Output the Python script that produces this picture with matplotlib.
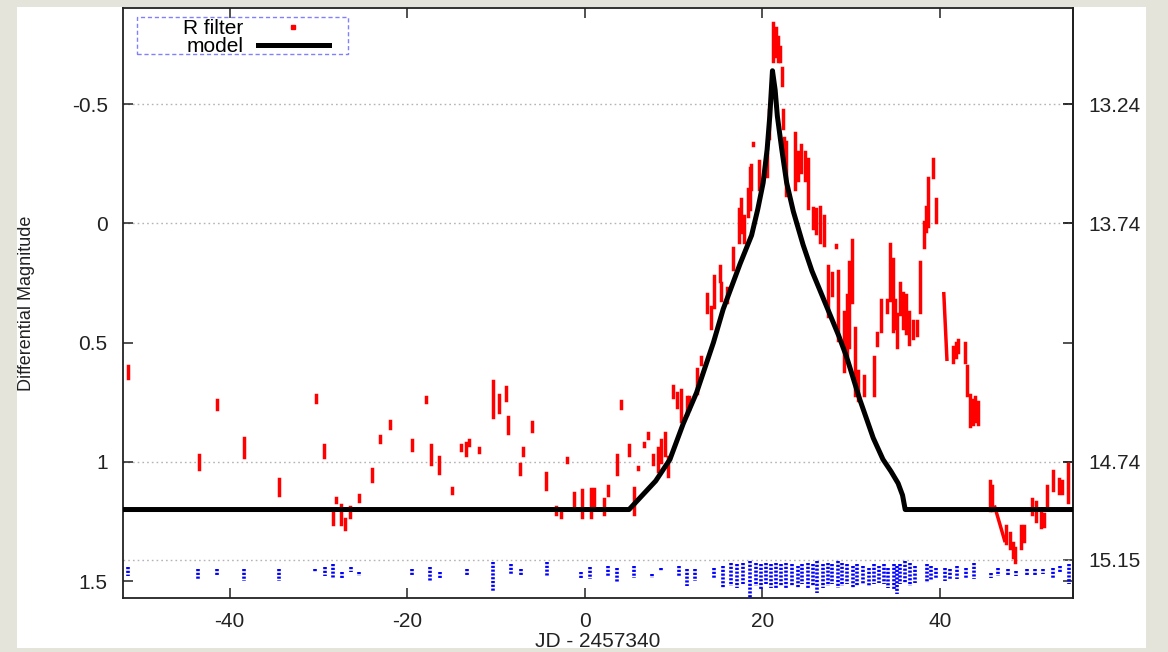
import matplotlib
matplotlib.use('Agg')
import matplotlib.pyplot as plt
from matplotlib.patches import Rectangle
from matplotlib.lines import Line2D

plt.rcParams['font.family'] = ['Liberation Sans', 'DejaVu Sans']
plt.rcParams['axes.unicode_minus'] = False

# ---------------- data ----------------
# model light curve (JD-2457340, differential magnitude)
model_x = [-52, 5.0, 6.5, 8.0, 9.6, 11.1, 12.6, 14.5, 15.6, 16.6, 17.5, 18.8, 19.5, 20.1,
           20.55, 20.85, 21.15, 21.45, 21.7, 22.2, 22.75, 23.5, 24.6, 25.6, 26.6, 27.6,
           28.6, 29.5, 31.0, 32.5, 33.6, 34.5, 35.3, 35.8, 36.1, 55]
model_y = [1.2, 1.2, 1.14, 1.08, 0.99, 0.84, 0.71, 0.50, 0.36, 0.26, 0.17, 0.05, -0.06, -0.17,
           -0.31, -0.45, -0.64, -0.56, -0.45, -0.31, -0.17, -0.05, 0.09, 0.20, 0.29, 0.38,
           0.47, 0.56, 0.74, 0.90, 0.99, 1.04, 1.09, 1.14, 1.2, 1.2]

# R filter nightly runs (vertical extent)
red_x = [-51.4, -43.4, -41.4, -38.4, -34.4, -30.3, -29.4, -28.4, -28.0, -27.4, -27.0, -26.4,
         -25.4, -23.9, -23.0, -21.9, -19.4, -17.9, -17.3, -16.4, -14.9, -13.9, -13.4, -13.0,
         -11.9, -10.3, -9.7, -8.9, -8.6, -7.3, -7.0, -5.9, -4.4, -3.2, -2.7, -2.0, -1.2,
         -0.3, 0.7, 1.1, 2.2, 2.6, 3.6, 4.1, 5.0, 5.6, 6.0, 6.7, 7.1,
         7.7, 8.3, 8.6, 9.1, 9.4, 9.95, 10.4, 10.8, 11.5, 11.8, 12.6, 13.1, 13.8, 14.2,
         14.6, 15.2, 15.4, 16.0, 16.7, 17.4, 17.65, 18.0, 18.4, 18.6, 18.7, 19.0, 19.6,
         20.5, 20.8, 21.2, 21.5, 21.8, 22.0, 22.2, 22.3, 22.4, 22.7, 23.7, 24.0, 24.4,
         24.8, 25.2, 25.7, 26.1, 26.5, 26.9, 27.4, 27.8, 28.3, 28.5, 29.2, 29.5, 29.8,
         30.1, 30.4, 30.8, 31.5, 32.6, 32.9, 33.4, 34.0, 34.4, 34.7, 34.9, 35.2, 35.5,
         35.9, 36.2, 36.5, 37.0, 37.4, 37.75, 38.2, 38.4, 38.7, 39.2, 39.6,
         41.5, 41.8, 42.1, 42.8, 43.1, 43.4, 43.7, 44.0, 44.3,
         45.6, 45.9, 45.6, 47.5, 47.9, 48.2, 48.5, 49.1, 49.5, 50.4, 50.8, 51.4, 51.7,
         52.1, 52.7, 53.4, 53.8, 54.4]
red_top = [0.60, 0.97, 0.74, 0.90, 1.07, 0.72, 0.93, 1.21, 1.15, 1.18, 1.24, 1.19,
           1.14, 1.03, 0.89, 0.83, 0.91, 0.73, 0.93, 0.98, 1.11, 0.93, 0.92, 0.91,
           0.94, 0.66, 0.72, 0.685, 0.81, 1.01, 0.94, 0.835, 1.045, 1.19, 1.21, 0.985, 1.13,
           1.12, 1.115, 1.115, 1.155, 1.10, 0.97, 0.745, 0.93, 1.11, 1.02, 0.92, 0.88,
           0.97, 0.94, 0.91, 0.88, 0.98, 0.68, 0.71, 0.70, 0.73, 0.73, 0.61, 0.56, 0.295, 0.35,
           0.22, 0.18, 0.25, 0.27, 0.105, -0.06, -0.10, -0.03, -0.146, -0.23, -0.245, -0.335, -0.26,
           -0.29, -0.475, -0.84, -0.82, -0.78, -0.74, -0.65, -0.475, -0.356, -0.34, -0.38, -0.30, -0.33,
           -0.30, -0.27, -0.063, -0.06, -0.07, -0.03, 0.18, 0.21, 0.09, 0.20, 0.37, 0.30, 0.16,
           0.07, 0.44, 0.62, 0.64, 0.56, 0.46, 0.32, 0.32, 0.085, 0.15, 0.32, 0.38, 0.25,
           0.29, 0.30, 0.37, 0.41, 0.41, 0.16, -0.005, -0.07, -0.19, -0.27, -0.10,
           0.52, 0.50, 0.49, 0.50, 0.60, 0.72, 0.74, 0.73, 0.75,
           1.08, 1.10, 1.24, 1.27, 1.30, 1.34, 1.36, 1.27, 1.27, 1.155, 1.17, 1.20, 1.22,
           1.10, 1.04, 1.07, 1.08, 1.01]
red_bot = [0.65, 1.03, 0.78, 0.98, 1.14, 0.75, 0.98, 1.26, 1.17, 1.26, 1.28, 1.23,
           1.165, 1.08, 0.915, 0.86, 0.95, 0.75, 1.01, 1.045, 1.13, 0.95, 0.97, 0.93,
           0.96, 0.81, 0.79, 0.74, 0.88, 1.05, 0.97, 0.87, 1.115, 1.22, 1.23, 1.0, 1.19,
           1.23, 1.23, 1.18, 1.22, 1.14, 1.05, 0.775, 0.97, 1.22, 1.03, 0.935, 0.90,
           1.01, 1.04, 1.0, 0.97, 1.06, 0.73, 0.77, 0.83, 0.80, 0.78, 0.71, 0.59, 0.37, 0.44,
           0.35, 0.24, 0.32, 0.33, 0.19, 0.08, 0.035, 0.08, -0.03, -0.06, -0.146, -0.33, -0.146,
           -0.20, -0.356, -0.68, -0.70, -0.68, -0.68, -0.58, -0.40, -0.26, -0.12, -0.146, -0.18, -0.215,
           -0.18, -0.063, 0.02, 0.04, 0.08, 0.09, 0.39, 0.30, 0.10, 0.49, 0.62, 0.55, 0.52,
           0.33, 0.72, 0.74, 0.72, 0.72, 0.51, 0.45, 0.37, 0.32, 0.45, 0.44, 0.52, 0.38,
           0.44, 0.46, 0.505, 0.48, 0.47, 0.37, 0.10, 0.03, 0.01, -0.195, -0.005,
           0.58, 0.56, 0.54, 0.58, 0.72, 0.85, 0.84, 0.83, 0.84,
           1.20, 1.20, 1.24, 1.34, 1.36, 1.40, 1.42, 1.36, 1.33, 1.22, 1.25, 1.275, 1.27,
           1.19, 1.12, 1.13, 1.13, 1.17]

# R filter runs with a clear trend during the night
red_slope_x0 = [40.45, 46.2]
red_slope_x1 = [40.8, 47.3]
red_slope_y0 = [0.295, 1.19]
red_slope_y1 = [0.57, 1.33]

# comparison star (blue)
blue_x = [-51.4, -43.5, -41.4, -38.4, -34.4, -30.4, -29.3, -28.4, -27.3, -26.3, -25.4,
          -19.4, -17.4, -16.3, -13.3, -10.3, -8.3, -7.2, -4.3, -0.4, 0.6, 2.6, 3.6,
          5.6, 7.6, 8.6, 10.6, 11.5, 12.4, 14.6, 15.6, 16.5, 17.1, 17.8, 18.6,
          19.3, 19.9, 20.4, 21.0, 21.5, 22.1, 22.7, 23.4, 24.0, 24.5, 25.1, 25.7, 26.2,
          26.8, 27.4, 27.9, 28.5, 29.0, 29.6, 30.2, 30.7, 31.3, 32.0, 32.6, 33.1, 33.7,
          34.2, 34.8, 35.2, 35.5, 36.1, 36.6, 37.2,
          38.5, 39.0, 39.6, 40.6, 41.1, 41.9, 43.0, 43.9, 45.8, 46.6, 47.7, 48.6, 49.8,
          50.7, 51.6, 52.8, 53.5, 54.5]
blue_top = [1.44, 1.45, 1.45, 1.45, 1.45, 1.45, 1.44, 1.43, 1.46, 1.44, 1.46,
            1.45, 1.44, 1.46, 1.45, 1.42, 1.43, 1.45, 1.42, 1.46, 1.44, 1.437, 1.444,
            1.437, 1.47, 1.444, 1.437, 1.451, 1.451, 1.444, 1.437, 1.423, 1.43, 1.423, 1.416,
            1.423, 1.43, 1.423, 1.43, 1.423, 1.43, 1.423, 1.43, 1.437, 1.43, 1.423, 1.43, 1.416,
            1.43, 1.423, 1.43, 1.416, 1.423, 1.43, 1.437, 1.43, 1.437, 1.444, 1.43, 1.437, 1.43,
            1.444, 1.43, 1.437, 1.43, 1.416, 1.423, 1.437,
            1.43, 1.437, 1.444, 1.444, 1.451, 1.437, 1.444, 1.423, 1.465, 1.444, 1.451, 1.458, 1.451,
            1.451, 1.451, 1.444, 1.437, 1.43]
blue_bot = [1.48, 1.49, 1.48, 1.50, 1.50, 1.46, 1.48, 1.49, 1.49, 1.46, 1.48,
            1.48, 1.50, 1.49, 1.48, 1.54, 1.47, 1.48, 1.48, 1.49, 1.49, 1.479, 1.507,
            1.486, 1.486, 1.458, 1.479, 1.521, 1.50, 1.493, 1.528, 1.521, 1.528, 1.514, 1.57,
            1.521, 1.535, 1.514, 1.528, 1.535, 1.521, 1.528, 1.521, 1.528, 1.514, 1.528, 1.521, 1.549,
            1.528, 1.521, 1.514, 1.528, 1.521, 1.514, 1.528, 1.521, 1.514, 1.521, 1.514, 1.507, 1.514,
            1.528, 1.535, 1.556, 1.514, 1.507, 1.521, 1.507,
            1.507, 1.50, 1.493, 1.50, 1.493, 1.493, 1.486, 1.493, 1.486, 1.479, 1.479, 1.479, 1.479,
            1.479, 1.472, 1.486, 1.465, 1.514]

# axis tick values
x_ticks = [-40, -20, 0, 20, 40]
y_ticks = [-0.5, 0, 0.5, 1, 1.5]
y_tick_labels = ['-0.5', '0', '0.5', '1', '1.5']
mag_offset = 13.74
y2_ticks = [13.24, 13.74, 14.74, 15.15]

# ---------------- figure ----------------
W, H = 1168, 652
fig = plt.figure(figsize=(W / 100, H / 100), dpi=100)
fig.patch.set_facecolor('#e4e4da')
fig.add_artist(Rectangle((17 / W, 1 - 648 / H), (1146 - 17) / W, (648 - 7) / H,
                         transform=fig.transFigure, facecolor='white',
                         edgecolor='none', zorder=0))

ax = fig.add_axes([123 / W, 1 - 598 / H, 950 / W, 590 / H])
ax.set_facecolor('white')
ax.set_xlim(-52, 55)
ax.set_ylim(1.571, -0.903)

# grid lines at the right-axis ticks
for v in y2_ticks:
    ax.axhline(v - mag_offset, color='#b4b4b4', lw=1.0, ls=(0, (1.2, 2.2)), zorder=1)

# comparison star
ax.vlines(blue_x, blue_top, blue_bot, colors='#0000ff', linestyles=(0, (0.6, 0.45)),
          linewidth=2.6, zorder=2)

# R filter data
for xx, t, b in zip(red_x, red_top, red_bot):
    ax.plot([xx, xx], [t, b], color='#ff0000', lw=2.5, solid_capstyle='projecting', zorder=3)
for x0, x1, y0, y1 in zip(red_slope_x0, red_slope_x1, red_slope_y0, red_slope_y1):
    ax.plot([x0, x1], [y0, y1], color='#ff0000', lw=2.5, solid_capstyle='projecting', zorder=3)

# model
ax.plot(model_x, model_y, color='black', lw=3.6, solid_joinstyle='round', zorder=4)

# axes styling
for s in ax.spines.values():
    s.set_linewidth(1.3)
    s.set_color('#222222')
ax.set_xticks(x_ticks)
ax.set_yticks(y_ticks)
ax.set_yticklabels(y_tick_labels)
ax.tick_params(direction='in', length=7, width=1.1, top=True, right=True,
               labelsize=15, colors='#222222')
ax.tick_params(axis='y', pad=11)
ax.tick_params(axis='x', pad=10)

sec = ax.secondary_yaxis('right', functions=(lambda y: y + mag_offset,
                                             lambda y: y - mag_offset))
sec.set_yticks(y2_ticks, labels=[f'{v:.2f}' for v in y2_ticks])
sec.tick_params(direction='in', length=7, width=1.1, labelsize=15, pad=11, colors='#222222')
sec.spines['right'].set_linewidth(1.3)

ax.set_xlabel('JD - 2457340', fontsize=15, color='#222222')
ax.xaxis.set_label_coords(0.5, -0.057)
ax.set_ylabel('Differential Magnitude', fontsize=13, color='#222222')
ax.yaxis.set_label_coords((35 - 123) / 950, 0.5)

# legend
handles = [Line2D([], [], color='#ff0000', marker='s', ms=2.5, ls='none'),
           Line2D([], [], color='black', lw=3.6)]
ax.legend(handles, ['R filter', 'model'], loc='upper left',
          bbox_to_anchor=((183 - 123) / 950, 1 - (19 - 8) / 590),
          frameon=False, markerfirst=False, fontsize=15, labelspacing=-0.05,
          handlelength=3.4, handletextpad=0.7, borderpad=0, borderaxespad=0)
ax.add_patch(Rectangle(((137 - 123) / 950, 1 - (54 - 8) / 590), (348 - 137) / 950,
                       (54 - 17) / 590, transform=ax.transAxes, fill=False,
                       edgecolor='#8080ff', ls=(0, (3, 2)), lw=1.0, zorder=5))

fig.savefig('out.png', dpi=100, facecolor=fig.get_facecolor())
